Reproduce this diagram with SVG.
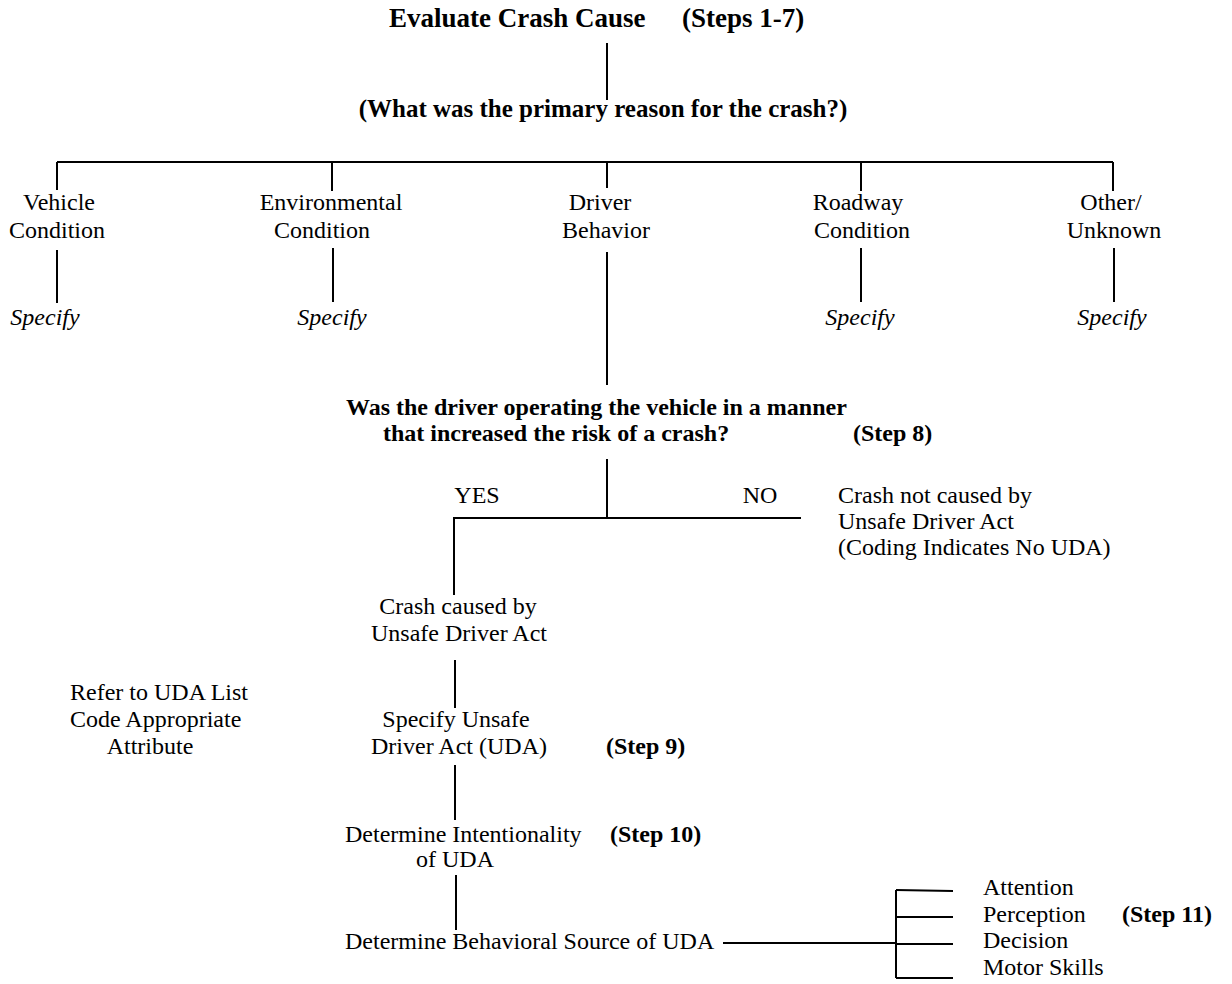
<svg xmlns="http://www.w3.org/2000/svg" width="1232" height="984" viewBox="0 0 1232 984">
<style>
text{font-family:"Liberation Serif","Times New Roman",serif;fill:#000;font-size:24px}
.b{font-weight:bold}
.i{font-style:italic}
.m{text-anchor:middle}
.c line,.c polyline{stroke:#000;stroke-width:2;fill:none}
</style>
<rect width="1232" height="984" fill="#fff"/>
<g class="c" id="connectors">
<line x1="607" y1="43" x2="607" y2="100"/>
<line x1="57" y1="162" x2="1113" y2="162"/>
<line x1="57" y1="162" x2="57" y2="190"/>
<line x1="332" y1="162" x2="332" y2="191"/>
<line x1="607" y1="162" x2="607" y2="188"/>
<line x1="861" y1="162" x2="861" y2="191"/>
<line x1="1113" y1="162" x2="1113" y2="191"/>
<line x1="57" y1="250" x2="57" y2="303"/>
<line x1="333" y1="248" x2="333" y2="302"/>
<line x1="861" y1="248" x2="861" y2="302"/>
<line x1="1114" y1="248" x2="1114" y2="302"/>
<line x1="607" y1="252" x2="607" y2="385"/>
<line x1="607" y1="459" x2="607" y2="518"/>
<polyline points="801,518 454,518 454,595"/>
<line x1="455" y1="660" x2="455" y2="708"/>
<line x1="455" y1="765" x2="455" y2="820"/>
<line x1="456" y1="875" x2="456" y2="930"/>
<line x1="723" y1="943" x2="896" y2="943"/>
<line x1="896" y1="890" x2="896" y2="978"/>
<line x1="896" y1="890" x2="953" y2="891"/>
<line x1="896" y1="917" x2="953" y2="917"/>
<line x1="896" y1="944" x2="953" y2="944"/>
<line x1="896" y1="978" x2="953" y2="978"/>
</g>
<g id="title"><text class="b" x="389" y="27" font-size="27" style="font-size:27px">Evaluate Crash Cause</text><text class="b" x="682" y="27" style="font-size:27px">(Steps 1-7)</text></g>
<g id="question1"><text class="b m" x="603" y="117" style="font-size:25px">(What was the primary reason for the crash?)</text></g>
<g id="vehicle"><text class="m" x="59" y="210">Vehicle</text><text class="m" x="57" y="238">Condition</text></g>
<g id="environmental"><text class="m" x="331" y="210">Environmental</text><text class="m" x="322" y="238">Condition</text></g>
<g id="driver"><text class="m" x="600" y="210">Driver</text><text class="m" x="606" y="238">Behavior</text></g>
<g id="roadway"><text class="m" x="858" y="210">Roadway</text><text class="m" x="862" y="238">Condition</text></g>
<g id="other"><text class="m" x="1111" y="210">Other/</text><text class="m" x="1114" y="238">Unknown</text></g>
<g id="specify-vehicle"><text class="i m" x="45" y="325">Specify</text></g>
<g id="specify-environmental"><text class="i m" x="332" y="325">Specify</text></g>
<g id="specify-roadway"><text class="i m" x="860" y="325">Specify</text></g>
<g id="specify-other"><text class="i m" x="1112" y="325">Specify</text></g>
<g id="question2"><text class="b" x="346" y="415">Was the driver operating the vehicle in a manner</text><text class="b" x="383" y="441">that increased the risk of a crash?</text><text class="b" x="853" y="441">(Step 8)</text></g>
<g id="yes"><text class="m" x="477" y="503">YES</text></g>
<g id="no"><text class="m" x="760" y="503">NO</text></g>
<g id="no-uda"><text x="838" y="503">Crash not caused by</text><text x="838" y="529">Unsafe Driver Act</text><text x="838" y="555">(Coding Indicates No UDA)</text></g>
<g id="uda"><text class="m" x="458" y="614">Crash caused by</text><text class="m" x="459" y="641">Unsafe Driver Act</text></g>
<g id="refer"><text x="70" y="700">Refer to UDA List</text><text x="70" y="727">Code Appropriate</text><text class="m" x="150" y="754">Attribute</text></g>
<g id="specify-uda"><text class="m" x="456" y="727">Specify Unsafe</text><text class="m" x="459" y="754">Driver Act (UDA)</text><text class="b" x="606" y="754">(Step 9)</text></g>
<g id="intentionality"><text x="345" y="842">Determine Intentionality</text><text class="m" x="455" y="867">of UDA</text><text class="b" x="610" y="842">(Step 10)</text></g>
<g id="behavioral-source"><text x="345" y="949">Determine Behavioral Source of UDA</text></g>
<g id="sources"><text x="983" y="895">Attention</text><text x="983" y="922">Perception</text><text x="983" y="948">Decision</text><text x="983" y="975">Motor Skills</text><text class="b" x="1122" y="922">(Step 11)</text></g>
</svg>
